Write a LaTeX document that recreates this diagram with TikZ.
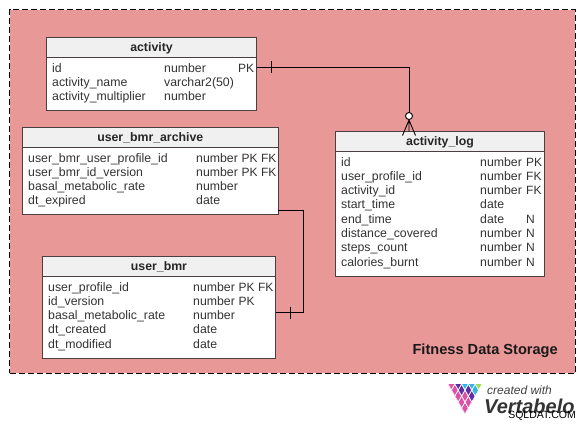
\documentclass[tikz,border=0pt]{standalone}
\usepackage{fontspec}
\setmainfont{Liberation Sans}
\definecolor{regionpink}{HTML}{E99898}
\definecolor{headgrey}{HTML}{F0F0F0}
\definecolor{boxline}{HTML}{4A3F3F}
\definecolor{inktext}{HTML}{333333}
\definecolor{logopink}{HTML}{DE4FA6}
\definecolor{logopurple}{HTML}{5E2CA5}
\definecolor{logoblue}{HTML}{35B4E6}
\definecolor{logogreen}{HTML}{9BDC55}
\tikzset{
  tablebox/.style={draw=boxline, fill=white, line width=0.8pt, inner sep=0pt, outer sep=0pt},
  headbox/.style={draw=boxline, fill=headgrey, line width=0.8pt, inner sep=0pt, outer sep=0pt},
  headtext/.style={font=\fontsize{12.3}{14}\selectfont\bfseries, text=black!85, anchor=base},
  celltext/.style={font=\fontsize{12.3}{14}\selectfont, text=inktext, anchor=base west, inner sep=0pt},
  keytext/.style={font=\fontsize{12}{14}\selectfont, text=inktext, anchor=base west, inner sep=0pt},
  relline/.style={line width=0.9pt, black},
}
\begin{document}
\begin{tikzpicture}[x=1pt, y=-1pt, font=\sffamily]
  \useasboundingbox (0,0) rectangle (586,424);

  % subject area behind the tables
  \node[draw=black, dash pattern=on 6pt off 3pt, fill=regionpink, line width=1pt, inner sep=0pt, outer sep=0pt, anchor=north west,
        minimum width=565.5pt, minimum height=363.5pt] (region) at (9.5,9.5) {};
  \node[font=\fontsize{14.6}{16}\selectfont\bfseries, text=black!90, anchor=base east, inner sep=0pt] (regionname) at (558,354.5) {Fitness Data Storage};

  % activity
  \node[tablebox, anchor=north west, minimum width=210pt, minimum height=72.5pt] (activity) at (46.5,37.5) {};
  \node[headbox, anchor=north west, minimum width=210pt, minimum height=19.5pt] (activityhead) at (46.5,37.5) {};
  \node[headtext] (activitytitle) at (151.5,51.5) {activity};
  \foreach \name/\type/\key [count=\r from 0] in {id/number/PK, activity\_name/varchar2(50)/, activity\_multiplier/number/} {
    \node[celltext] (activityname\r) at (52,72+14*\r) {\name};
    \node[celltext] (activitytype\r) at (164,72+14*\r) {\type};
    \node[keytext] (activitykey\r) at (238,72+14*\r) {\key};
  }

  % user_bmr_archive
  \node[tablebox, anchor=north west, minimum width=255.5pt, minimum height=86.5pt] (archive) at (22.5,127.5) {};
  \node[headbox, anchor=north west, minimum width=255.5pt, minimum height=19.5pt] (archivehead) at (22.5,127.5) {};
  \node[headtext] (archivetitle) at (150.25,141.5) {user\_bmr\_archive};
  \foreach \name/\type/\key [count=\r from 0] in {user\_bmr\_user\_profile\_id/number/PK FK, user\_bmr\_id\_version/number/PK FK, basal\_metabolic\_rate/number/, dt\_expired/date/} {
    \node[celltext] (archivename\r) at (28,162+14.3*\r) {\name};
    \node[celltext] (archivetype\r) at (196,162+14.3*\r) {\type};
    \node[keytext] (archivekey\r) at (241.5,162+14.3*\r) {\key};
  }

  % user_bmr
  \node[tablebox, anchor=north west, minimum width=233pt, minimum height=101.5pt] (userbmr) at (42.5,256.5) {};
  \node[headbox, anchor=north west, minimum width=233pt, minimum height=20pt] (userbmrhead) at (42.5,256.5) {};
  \node[headtext] (userbmrtitle) at (159,270.5) {user\_bmr};
  \foreach \name/\type/\key [count=\r from 0] in {user\_profile\_id/number/PK FK, id\_version/number/PK, basal\_metabolic\_rate/number/, dt\_created/date/, dt\_modified/date/} {
    \node[celltext] (userbmrname\r) at (48,291+14.3*\r) {\name};
    \node[celltext] (userbmrtype\r) at (193,291+14.3*\r) {\type};
    \node[keytext] (userbmrkey\r) at (238.5,291+14.3*\r) {\key};
  }

  % activity_log
  \node[tablebox, anchor=north west, minimum width=209pt, minimum height=144.5pt] (activitylog) at (335.5,131.5) {};
  \node[headbox, anchor=north west, minimum width=209pt, minimum height=19.5pt] (activityloghead) at (335.5,131.5) {};
  \node[headtext] (activitylogtitle) at (440,145.5) {activity\_log};
  \foreach \name/\type/\key [count=\r from 0] in {id/number/PK, user\_profile\_id/number/FK, activity\_id/number/FK, start\_time/date/, end\_time/date/N, distance\_covered/number/N, steps\_count/number/N, calories\_burnt/number/N} {
    \node[celltext] (logname\r) at (341,166+14.3*\r) {\name};
    \node[celltext] (logtype\r) at (480,166+14.3*\r) {\type};
    \node[keytext] (logkey\r) at (526,166+14.3*\r) {\key};
  }

  % relationship lines
  \coordinate (activityout) at (256.5,67);
  \coordinate (login) at (409,131.5);
  \coordinate (logcircle) at (409,116);
  \coordinate (activitytick) at (271.5,67);
  \draw[relline] (activityout) -| (logcircle);
  \draw[relline] (activitytick) ++(0,-6) -- ++(0,12);
  \draw[relline] (logcircle) ++(0,4) -- (login) (logcircle) ++(0,4) -- ++(-6.5,15.5) (logcircle) ++(0,4) -- ++(6.5,15.5);
  \draw[relline, fill=white] (logcircle) circle (3.5pt);

  \coordinate (archiveout) at (278,210.5);
  \coordinate (bmrout) at (275.5,312.5);
  \coordinate (bmrtick) at (290.5,312.5);
  \draw[relline] (archiveout) -- (303.5,210.5) |- (bmrout);
  \draw[relline] (bmrtick) ++(0,-6) -- ++(0,12);

  % logo
  \begin{scope}
    \clip (448,384) -- (482,384) -- (465,414) -- cycle;
    \foreach \i/\j/\col in {0/0/logopink, 1/0/logopink, 2/0/logopink, 3/0/logopink, 4/0/logopink,
        0/1/logopink, 1/1/logopink, 2/1/logopurple, 3/1/logopurple,
        0/2/logopurple, 1/2/logopurple, 2/2/logoblue,
        0/3/logoblue, 1/3/logoblue, 0/4/logogreen} {
      \draw[white, line width=0.7pt, fill=\col] (465-3.4*\i+3.4*\j,414-6*\i-6*\j) -- ++(3.4,-6) -- ++(-3.4,-6) -- ++(-3.4,6) -- cycle;
    }
  \end{scope}
  \node[font=\fontsize{12}{14}\selectfont\itshape, text=black!75, anchor=base west, inner sep=0pt] (createdwith) at (487,394) {created with};
  \node[font=\fontsize{20}{24}\selectfont\bfseries\itshape, text=black!80, anchor=base west, inner sep=0pt] (vertabelo) at (484,413) {Vertabelo};
  \node[font=\fontsize{10.5}{13}\selectfont, text=black, anchor=base east, inner sep=0pt] (watermark) at (576,418.5) {SQLDAT.COM};
\end{tikzpicture}
\end{document}
